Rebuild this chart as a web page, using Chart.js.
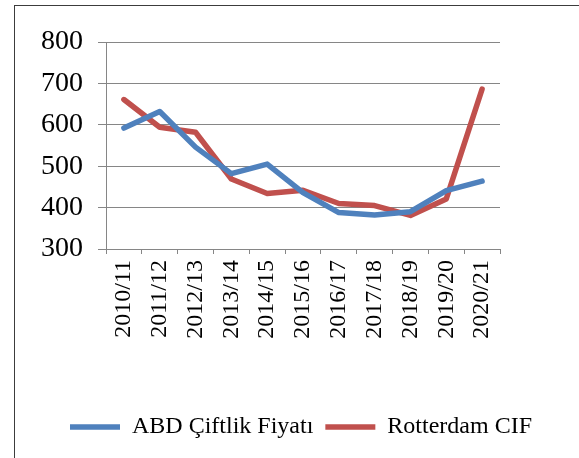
<!DOCTYPE html>
<html>
<head>
<meta charset="utf-8">
<script src="https://cdn.jsdelivr.net/npm/chart.js@4/dist/chart.umd.min.js"></script>
<style>
  html, body { margin: 0; padding: 0; background: #fff; overflow: hidden; }
  #wrap { position: relative; width: 579px; height: 458px; }
  #frame {
    position: absolute; left: 14px; top: 5px; width: 800px; height: 800px;
    border: 1px solid #3c3c3c; box-sizing: border-box;
  }
  canvas { position: absolute; left: 0; top: 0; }
</style>
</head>
<body>
<div id="wrap">
  <div id="frame"></div>
  <canvas id="chart" width="579" height="458"></canvas>
</div>
<script>
const seasons = [
  "2010/11", "2011/12", "2012/13", "2013/14", "2014/15", "2015/16",
  "2016/17", "2017/18", "2018/19", "2019/20", "2020/21",
];
const usFarmPrice = [592, 632, 546, 482, 505, 436, 388, 382, 390, 441, 464];
const rotterdamCif = [661, 594, 582, 469, 434, 442, 410, 405, 381, 421, 686];
const yMin = 300;
const yMax = 800;
const yStep = 100;

const serif = "'Liberation Serif', 'Times New Roman', serif";
const gridGray = "#868686";

const chartConfig = {
  type: "line",
  data: {
    labels: seasons,
    datasets: [
      {
        label: "ABD Çiftlik Fiyatı",
        data: usFarmPrice,
        borderColor: "#4F81BD",
        backgroundColor: "#4F81BD",
        borderWidth: 5.5,
        borderCapStyle: "round",
      },
      {
        label: "Rotterdam CIF",
        data: rotterdamCif,
        borderColor: "#C0504D",
        backgroundColor: "#C0504D",
        borderWidth: 5.5,
        borderCapStyle: "round",
      },
    ],
  },
  options: {
    responsive: false,
    animation: false,
    layout: { padding: { left: 30, right: 7, top: 42, bottom: 9 } },
    elements: {
      line: { tension: 0, borderJoinStyle: "round" },
      point: { radius: 0, hoverRadius: 0 },
    },
    scales: {
      x: {
        offset: true,
        grid: {
          offset: true,
          drawOnChartArea: false,
          drawTicks: true,
          tickLength: 5,
          color: gridGray,
        },
        border: { color: gridGray },
        ticks: {
          minRotation: 90,
          maxRotation: 90,
          autoSkip: false,
          padding: 6,
          color: "#000",
          font: { family: serif, size: 24 },
        },
        afterFit(scale) {
          scale.height = 154;
        },
      },
      y: {
        min: yMin,
        max: yMax,
        grid: { color: gridGray, tickLength: 8 },
        border: { color: gridGray },
        ticks: {
          stepSize: yStep,
          padding: 15,
          color: "#000",
          font: { family: serif, size: 28 },
        },
        afterFit(scale) {
          scale.width = 76;
        },
      },
      // empty axis on the right, only to keep the plot narrower than the legend
      spacer: {
        position: "right",
        display: true,
        grid: { display: false },
        border: { display: false },
        ticks: { display: false },
        afterFit(scale) {
          scale.width = 72;
        },
      },
    },
    plugins: {
      tooltip: { enabled: false },
      legend: {
        position: "bottom",
        labels: {
          usePointStyle: true,
          pointStyle: "line",
          pointStyleWidth: 50,
          boxHeight: 6,
          padding: 12,
          color: "#000",
          font: { family: serif, size: 24 },
        },
      },
    },
  },
};

const ctx = document.getElementById("chart");
const chartInstance = new Chart(ctx, chartConfig);
</script>
</body>
</html>
